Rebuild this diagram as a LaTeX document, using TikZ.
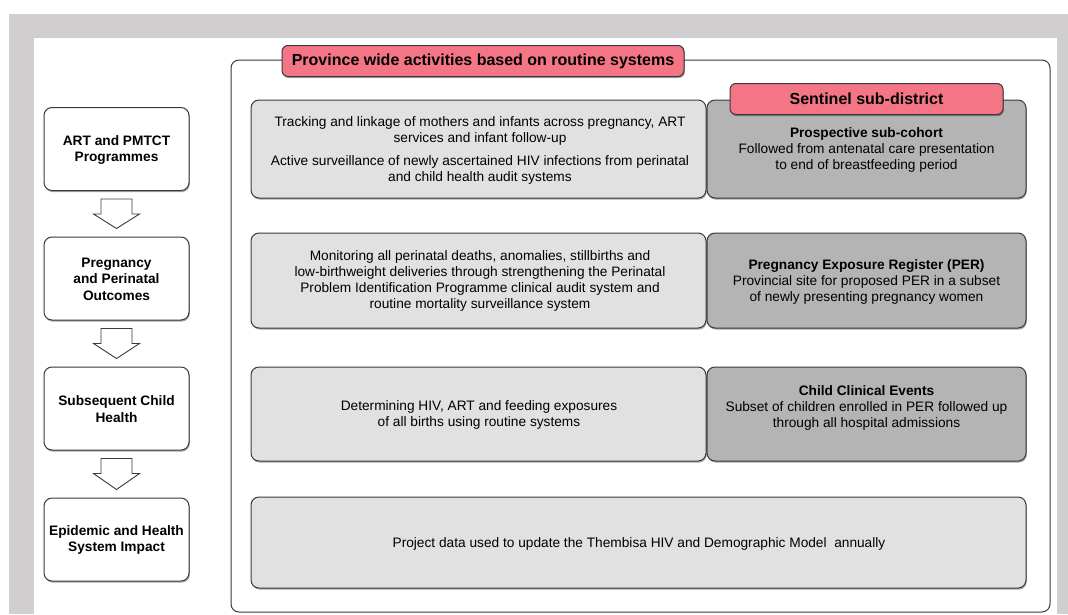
\documentclass[tikz,border=0pt]{standalone}
\usepackage{fontspec}
\setmainfont{Liberation Sans}
\usetikzlibrary{shadows,calc}
\definecolor{bggray}{HTML}{D0CECE}
\definecolor{pinkc}{HTML}{F47585}
\definecolor{lightc}{HTML}{E1E1E1}
\definecolor{darkc}{HTML}{B4B4B4}
\definecolor{edgec}{HTML}{3A3A3A}
\begin{document}
\begin{tikzpicture}[x=1pt,y=-1pt,
  shad/.style={drop shadow={shadow xshift=0.8pt,shadow yshift=-1.6pt,opacity=0.35,fill=black}},
  leftbox/.style={draw=edgec,line width=1pt,rounded corners=8pt,fill=white,shad,minimum width=145pt,minimum height=83pt,inner sep=0pt},
  lightbox/.style={draw=edgec,line width=1pt,rounded corners=8pt,fill=lightc,shad,inner sep=0pt},
  darkbox/.style={draw=edgec,line width=1pt,rounded corners=8pt,fill=darkc,shad,inner sep=0pt},
  banner/.style={draw=edgec,line width=1pt,rounded corners=6pt,fill=pinkc,shad,inner sep=0pt,font=\fontsize{16}{18}\selectfont\bfseries},
  txt/.style={align=center,inner sep=0pt,font=\fontsize{13.7}{16}\selectfont},
  ltxt/.style={align=center,inner sep=0pt,font=\fontsize{13.7}{16.5}\selectfont\bfseries},
  hollow/.style={draw=edgec,line width=0.9pt,fill=white,line join=miter}
]
\fill[bggray] (9,14) rectangle (1068,614);
\fill[white] (34,38) rectangle (1057,614);
\useasboundingbox (0,0) rectangle (1068,614);

% outer frame
\draw[edgec,line width=1pt,rounded corners=8pt] (231,60) rectangle (1050,612);

% province banner
\node[banner,minimum width=402pt,minimum height=31pt] (prov) at (483,61) {Province wide activities based on routine systems};

% row boxes
\node[lightbox,minimum width=455pt,minimum height=98pt] (r1l) at (478.5,149) {};
\node[darkbox,minimum width=319pt,minimum height=98pt] (r1d) at (866.5,149) {};
\node[banner,minimum width=273pt,minimum height=31pt] (sent) at (866.5,99) {Sentinel sub-district};

\node[lightbox,minimum width=455pt,minimum height=95pt] (r2l) at (478.5,280.5) {};
\node[darkbox,minimum width=319pt,minimum height=95pt] (r2d) at (866.5,280.5) {};

\node[lightbox,minimum width=455pt,minimum height=94pt] (r3l) at (478.5,414) {};
\node[darkbox,minimum width=319pt,minimum height=94pt] (r3d) at (866.5,414) {};

\node[lightbox,minimum width=775pt,minimum height=91pt] (r4) at (638.5,542.5) {};

% row texts
\node[txt] (t1l) at (480,150) {Tracking and linkage of mothers and infants across pregnancy, ART\\services and infant follow-up\\[7pt]Active surveillance of newly ascertained HIV infections from perinatal\\and child health audit systems};
\node[txt] (t1d) at (866.5,150) {\textbf{Prospective sub-cohort}\\Followed from antenatal care presentation\\to end of breastfeeding period};
\node[txt] (t2l) at (480,281) {Monitoring all perinatal deaths, anomalies, stillbirths and\\low-birthweight deliveries through strengthening the Perinatal\\Problem Identification Programme clinical audit system and\\routine mortality surveillance system};
\node[txt] (t2d) at (866.5,282) {\textbf{Pregnancy Exposure Register (PER)}\\Provincial site for proposed PER in a subset\\of newly presenting pregnancy women};
\node[txt] (t3l) at (479,415) {Determining HIV, ART and feeding exposures\\of all births using routine systems};
\node[txt] (t3d) at (866.5,408) {\textbf{Child Clinical Events}\\Subset of children enrolled in PER followed up\\through all hospital admissions};
\node[txt] (t4) at (639,544) {Project data used to update the Thembisa HIV and Demographic Model\ \ annually};

% left column
\node[leftbox] (l1) at (116.5,149) {};
\node[leftbox] (l2) at (116.5,278.5) {};
\node[leftbox] (l3) at (116.5,408.5) {};
\node[leftbox] (l4) at (116.5,539.5) {};
\node[ltxt] (lt1) at (116.5,150) {ART and PMTCT\\Programmes};
\node[ltxt] (lt2) at (116.5,279) {Pregnancy\\and Perinatal\\Outcomes};
\node[ltxt] (lt3) at (116.5,409) {Subsequent Child\\Health};
\node[ltxt] (lt4) at (116.5,540) {Epidemic and Health\\System Impact};

% hollow arrows
\foreach \a/\b in {l1/l2,l2/l3,l3/l4}{
  \draw[hollow] ($(\a.south)+(-15.5,8)$) -- ++(0,15) -- ++(-7.5,0) -- ($(\b.north)+(0,-8)$) -- ($(\a.south)+(23,23)$) -- ++(-7.5,0) -- ++(0,-15) -- cycle;
}
\end{tikzpicture}
\end{document}
